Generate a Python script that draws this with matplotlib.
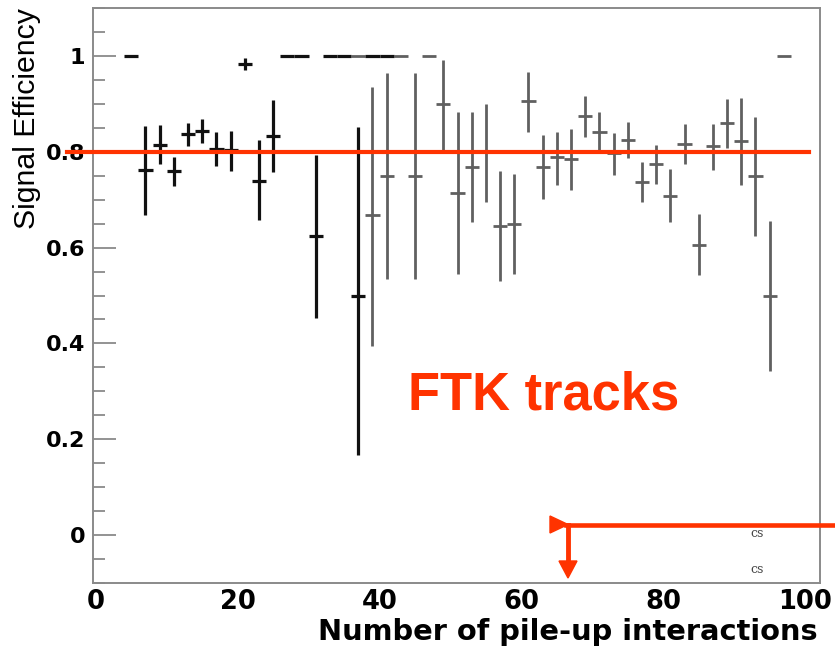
import matplotlib
matplotlib.use("Agg")
import matplotlib.pyplot as plt
from matplotlib.lines import Line2D
from matplotlib.patches import Polygon
from matplotlib.ticker import MultipleLocator, FixedLocator

# ---------------- data ----------------
black_x = [5, 7, 9, 11, 13, 15, 17, 19, 21, 23, 25, 27, 29, 31, 33, 35, 37, 39, 41]
black_y = [1.0, 0.761, 0.815, 0.759, 0.838, 0.844, 0.806, 0.803, 0.983, 0.740, 0.833,
           1.0, 1.0, 0.624, 1.0, 1.0, 0.5, 1.0, 1.0]
black_hi = [0, 0.092, 0.041, 0.031, 0.022, 0.025, 0.035, 0.041, 0.012, 0.084, 0.075,
            0, 0, 0.170, 0, 0, 0.351, 0, 0]
black_lo = [0, 0.092, 0.040, 0.031, 0.025, 0.025, 0.035, 0.044, 0.012, 0.083, 0.076,
            0, 0, 0.171, 0, 0, 0.333, 0, 0]

gray_x = [37, 39, 41, 43, 45, 47, 49, 51, 53, 55, 57, 59, 61, 63, 65, 67, 69, 71, 73,
          75, 77, 79, 81, 83, 85, 87, 89, 91, 93, 95, 97]
gray_y = [1.0, 0.667, 0.75, 1.0, 0.75, 1.0, 0.9, 0.714, 0.769, 0.8, 0.646, 0.65, 0.905,
          0.769, 0.79, 0.785, 0.874, 0.842, 0.797, 0.825, 0.737, 0.775, 0.708, 0.817,
          0.606, 0.811, 0.860, 0.823, 0.749, 0.5, 1.0]
gray_hi = [0, 0.269, 0.214, 0, 0.214, 0, 0.092, 0.169, 0.115, 0.100, 0.113, 0.104, 0.062,
           0.065, 0.052, 0.062, 0.043, 0.042, 0.043, 0.038, 0.041, 0.040, 0.057, 0.041,
           0.064, 0.047, 0.050, 0.090, 0.123, 0.155, 0]
gray_lo = [0, 0.273, 0.215, 0, 0.215, 0, 0.096, 0.170, 0.116, 0.104, 0.115, 0.106, 0.064,
           0.068, 0.059, 0.064, 0.043, 0.042, 0.045, 0.038, 0.042, 0.042, 0.055, 0.043,
           0.064, 0.0485, 0.052, 0.092, 0.124, 0.158, 0]
bin_half_width = 1.0
threshold = 0.8

y_ticks = [0, 0.2, 0.4, 0.6, 0.8, 1.0]
y_tick_labels = ["0", "0.2", "0.4", "0.6", "0.8", "1"]
x_ticks = [0, 20, 40, 60, 80, 100]
x_tick_labels = ["0", "20", "40", "60", "80", "100"]

RED = "#ff3300"
W, H = 835, 646

def fx(px):
    return px / W

def fy(py):
    return 1 - py / H

fig = plt.figure(figsize=(W / 100, H / 100), dpi=100)
ax = fig.add_axes([fx(93), fy(583), fx(820) - fx(93), fy(8) - fy(583)])

ax.errorbar(gray_x, gray_y, yerr=[gray_lo, gray_hi], xerr=bin_half_width,
            fmt="none", ecolor="#606060", elinewidth=2.0, capsize=0, zorder=2)
ax.errorbar(black_x, black_y, yerr=[black_lo, black_hi], xerr=bin_half_width,
            fmt="none", ecolor="#111111", elinewidth=2.3, capsize=0, zorder=3)

ax.plot([-4, 100.5], [threshold, threshold], color=RED, lw=3.0, clip_on=False, zorder=5)

ax.set_xlim(-0.4, 102.1)
ax.set_ylim(-0.1, 1.1)

ax.yaxis.set_major_locator(FixedLocator(y_ticks))
ax.set_yticklabels(y_tick_labels)
ax.yaxis.set_minor_locator(MultipleLocator(0.05))
ax.set_xticks(x_ticks)
ax.set_xticklabels(x_tick_labels)

ax.tick_params(axis="y", which="major", direction="in", length=16.5, width=1.2,
               color="#808080", pad=5.5, labelsize=16)
ax.tick_params(axis="y", which="minor", direction="in", length=8.6, width=1.2,
               color="#808080")
ax.tick_params(axis="x", which="major", length=0, pad=4, labelsize=18.5)
for lab in ax.get_yticklabels() + ax.get_xticklabels():
    lab.set_fontfamily("DejaVu Sans")
    lab.set_fontweight("bold")

for s in ax.spines.values():
    s.set_color("#8a8a8a")
    s.set_linewidth(1.4)

# axis titles
fig.text(fx(818), fy(640), "Number of pile-up interactions", ha="right", va="baseline",
         fontsize=20.8, fontweight="bold", family="DejaVu Sans", color="black")
fig.text(fx(13), fy(8), "Signal Efficiency", rotation=90, ha="left", va="top",
         fontsize=21.8, family="Liberation Sans", color="black")

# annotation text
fig.text(fx(408), fy(410), "FTK tracks", ha="left", va="baseline", fontsize=37.8,
         fontweight="bold", family="Liberation Sans", color=RED)

# red arrows overlay
fig.add_artist(Line2D([fx(566), fx(835)], [fy(524.5), fy(524.5)], color=RED, lw=3.3,
                      transform=fig.transFigure))
fig.add_artist(Polygon([(fx(550), fy(516)), (fx(550), fy(533)), (fx(568), fy(524.5))],
                       closed=True, color=RED, transform=fig.transFigure))
fig.add_artist(Line2D([fx(568), fx(568)], [fy(524.5), fy(565)], color=RED, lw=3.5,
                      transform=fig.transFigure))
fig.add_artist(Polygon([(fx(559), fy(561)), (fx(577), fy(561)), (fx(568), fy(578))],
                       closed=True, color=RED, transform=fig.transFigure))

# faint legend remnants
fig.text(fx(750), fy(537), "cs", fontsize=9, family="DejaVu Serif", color="#444444")
fig.text(fx(750), fy(573), "cs", fontsize=9, family="DejaVu Serif", color="#444444")

fig.savefig("out.png", dpi=100)
